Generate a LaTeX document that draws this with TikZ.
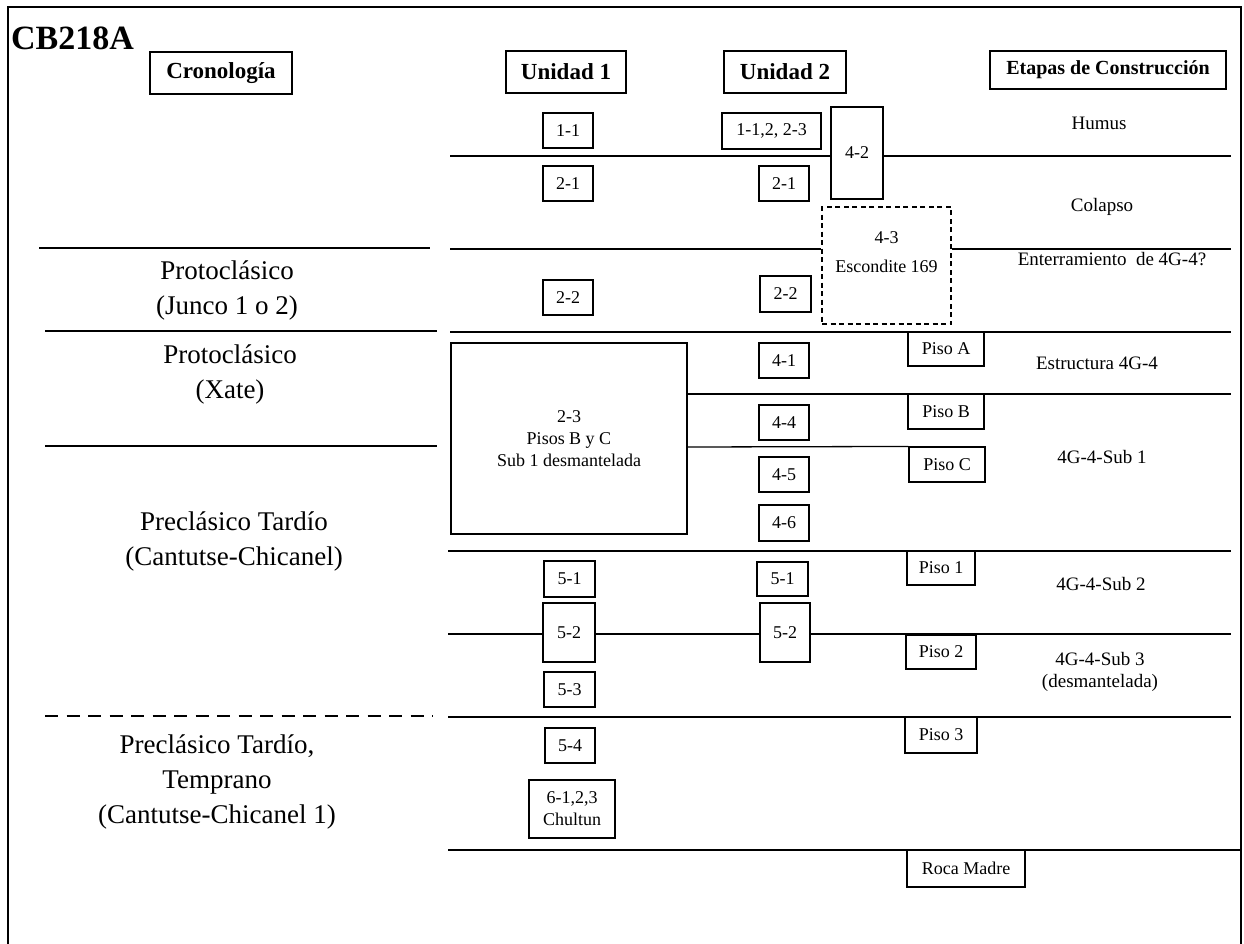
\documentclass[tikz,border=0pt]{standalone}
\usepackage{fontspec}
\setmainfont{Liberation Serif}
\begin{document}
\begin{tikzpicture}[x=1pt,y=-1pt,
  sz/.style 2 args={minimum width=#1pt,minimum height=#2pt},
  bx/.style={draw,line width=1.1pt,inner sep=0pt,font=\fontsize{18}{22}\selectfont,align=center},
  hd/.style={draw,line width=1.1pt,inner sep=0pt,font=\bfseries\fontsize{23}{28}\selectfont},
  lab/.style={font=\fontsize{19}{22}\selectfont,align=center,inner sep=0pt},
  era/.style={font=\fontsize{27}{35}\selectfont,align=center,inner sep=0pt},
  layer/.style={line width=1.3pt},
  eraline/.style={line width=2.6pt}]
\useasboundingbox (0,0) rectangle (1244,943);
% frame
\draw[line width=2.5pt] (8,944) -- (8,7) -- (1241,7) -- (1241,944);

% title and headers
\node[anchor=base west,inner sep=0pt,font=\bfseries\fontsize{34}{40}\selectfont] (title) at (11,49) {CB218A};
\node[hd,sz={142}{42}] (hcron) at (221,73) {Cronología};
\node[hd,sz={120}{42}] (hu1) at (566,72) {Unidad 1};
\node[hd,sz={122}{42}] (hu2) at (785,72) {Unidad 2};
\node[hd,sz={236}{38},font=\bfseries\fontsize{20}{24}\selectfont] (het) at (1108,70) {Etapas de Construcción};

% Unidad 1 boxes
\node[bx,sz={50}{35}] (a11) at (568,130.5) {1-1};
\node[bx,sz={50}{35}] (a21) at (568,183.5) {2-1};
\node[bx,sz={50}{35}] (a22) at (568,297.5) {2-2};
\node[bx,sz={236}{191}] (a23) at (569,438.5) {2-3\\Pisos B y C\\Sub 1 desmantelada};
\node[bx,sz={51}{36}] (a51) at (569.5,579) {5-1};
\node[bx,sz={52}{59}] (a52) at (569,632.5) {5-2};
\node[bx,sz={51}{35}] (a53) at (569.5,689.5) {5-3};
\node[bx,sz={50}{35}] (a54) at (570,745.5) {5-4};
\node[bx,sz={86}{58}] (a61) at (572,809) {6-1,2,3\\Chultun};

% Unidad 2 boxes
\node[bx,sz={99}{36}] (b11) at (771.5,131) {1-1,2, 2-3};
\node[bx,sz={50}{35}] (b21) at (784,183.5) {2-1};
\node[bx,sz={51}{36}] (b22) at (785.5,294) {2-2};
\node[bx,sz={50}{35}] (b41) at (784,360.5) {4-1};
\node[bx,sz={50}{35}] (b44) at (784,422.5) {4-4};
\node[bx,sz={50}{35}] (b45) at (784,474.5) {4-5};
\node[bx,sz={50}{36}] (b46) at (784,523) {4-6};
\node[bx,sz={51}{34}] (b51) at (782.5,579) {5-1};
\node[bx,sz={50}{59}] (b52) at (785,632.5) {5-2};
\node[bx,sz={52}{92}] (b42) at (857,153) {4-2};
\node[bx,sz={129}{117},dash pattern=on 5pt off 3.5pt] (b43) at (886.5,265.5) {};
\node[lab,font=\fontsize{18}{29}\selectfont] (t43) at (886.5,252) {4-3\\Escondite 169};

% Pisos
\node[bx,sz={76}{34}] (pa) at (946,349) {Piso A};
\node[bx,sz={76}{35}] (pb) at (946,411.5) {Piso B};
\node[bx,sz={76}{35}] (pc) at (947,464.5) {Piso C};
\node[bx,sz={68}{34}] (p1) at (941,568) {Piso 1};
\node[bx,sz={70}{34}] (p2) at (941,652) {Piso 2};
\node[bx,sz={72}{36}] (p3) at (941,735) {Piso 3};
\node[bx,sz={118}{37}] (rm) at (966,868.5) {Roca Madre};

% stage labels
\node[lab] (lhum) at (1099,123) {Humus};
\node[lab] (lcol) at (1102,207) {Colapso};
\node[lab] (lent) at (1112,259) {Enterramiento\ \ de 4G-4?};
\node[lab] (lest) at (1097,363) {Estructura 4G-4};
\node[lab] (ls1) at (1102,457) {4G-4-Sub 1};
\node[lab] (ls2) at (1101,584) {4G-4-Sub 2};
\node[lab] (ls3) at (1100,672) {4G-4-Sub 3\\(desmantelada)};

% chronology texts
\node[era] (e1) at (227,290) {Protoclásico\\(Junco 1 o 2)};
\node[era] (e2) at (230,374.5) {Protoclásico\\(Xate)};
\node[era] (e3) at (234,541.5) {Preclásico Tardío\\(Cantutse-Chicanel)};
\node[era] (e4) at (217,781.5) {Preclásico Tardío,\\Temprano\\(Cantutse-Chicanel 1)};

% chronology lines
\coordinate (c1w) at (39,248); \coordinate (c1e) at (430,248);
\coordinate (c2w) at (45,331); \coordinate (c2e) at (437,331);
\coordinate (c3w) at (45,446); \coordinate (c3e) at (437,446);
\coordinate (c4w) at (45,716); \coordinate (c4e) at (433,716);
\draw[eraline] (c1w) -- (c1e);
\draw[eraline] (c2w) -- (c2e);
\draw[eraline] (c3w) -- (c3e);
\draw[eraline,dash pattern=on 13pt off 8.5pt] (c4w) -- (c4e);

% layer lines
\coordinate (l1w) at (450,156); \coordinate (l1e) at (1231,156);
\draw[layer] (l1w) -- (l1w -| b42.west);
\draw[layer] (b42.east |- l1w) -- (l1e);
\coordinate (l2w) at (450,249); \coordinate (l2e) at (1231,249);
\draw[layer] (l2w) -- (l2w -| b43.west);
\draw[layer] (b43.east |- l2w) -- (l2e);
\coordinate (l3w) at (450,332); \coordinate (l3e) at (1231,332);
\draw[layer] (l3w) -- (l3e);
\coordinate (l4e) at (1231,394);
\draw[layer] (a23.east |- l4e) -- (l4e);
\coordinate (l5) at (0,447);
\draw[layer] (a23.east |- l5) -- (pc.north west);
\coordinate (l6w) at (448,551); \coordinate (l6e) at (1231,551);
\draw[layer] (l6w) -- (l6e);
\coordinate (l7w) at (448,634); \coordinate (l7e) at (1231,634);
\draw[layer] (l7w) -- (l7w -| a52.west);
\draw[layer] (a52.east |- l7w) -- (l7w -| b52.west);
\draw[layer] (b52.east |- l7w) -- (l7e);
\coordinate (l8w) at (448,717); \coordinate (l8e) at (1231,717);
\draw[layer] (l8w) -- (l8e);
\coordinate (l9w) at (448,850); \coordinate (l9e) at (1241,850);
\draw[layer] (l9w) -- (l9e);
\end{tikzpicture}
\end{document}
